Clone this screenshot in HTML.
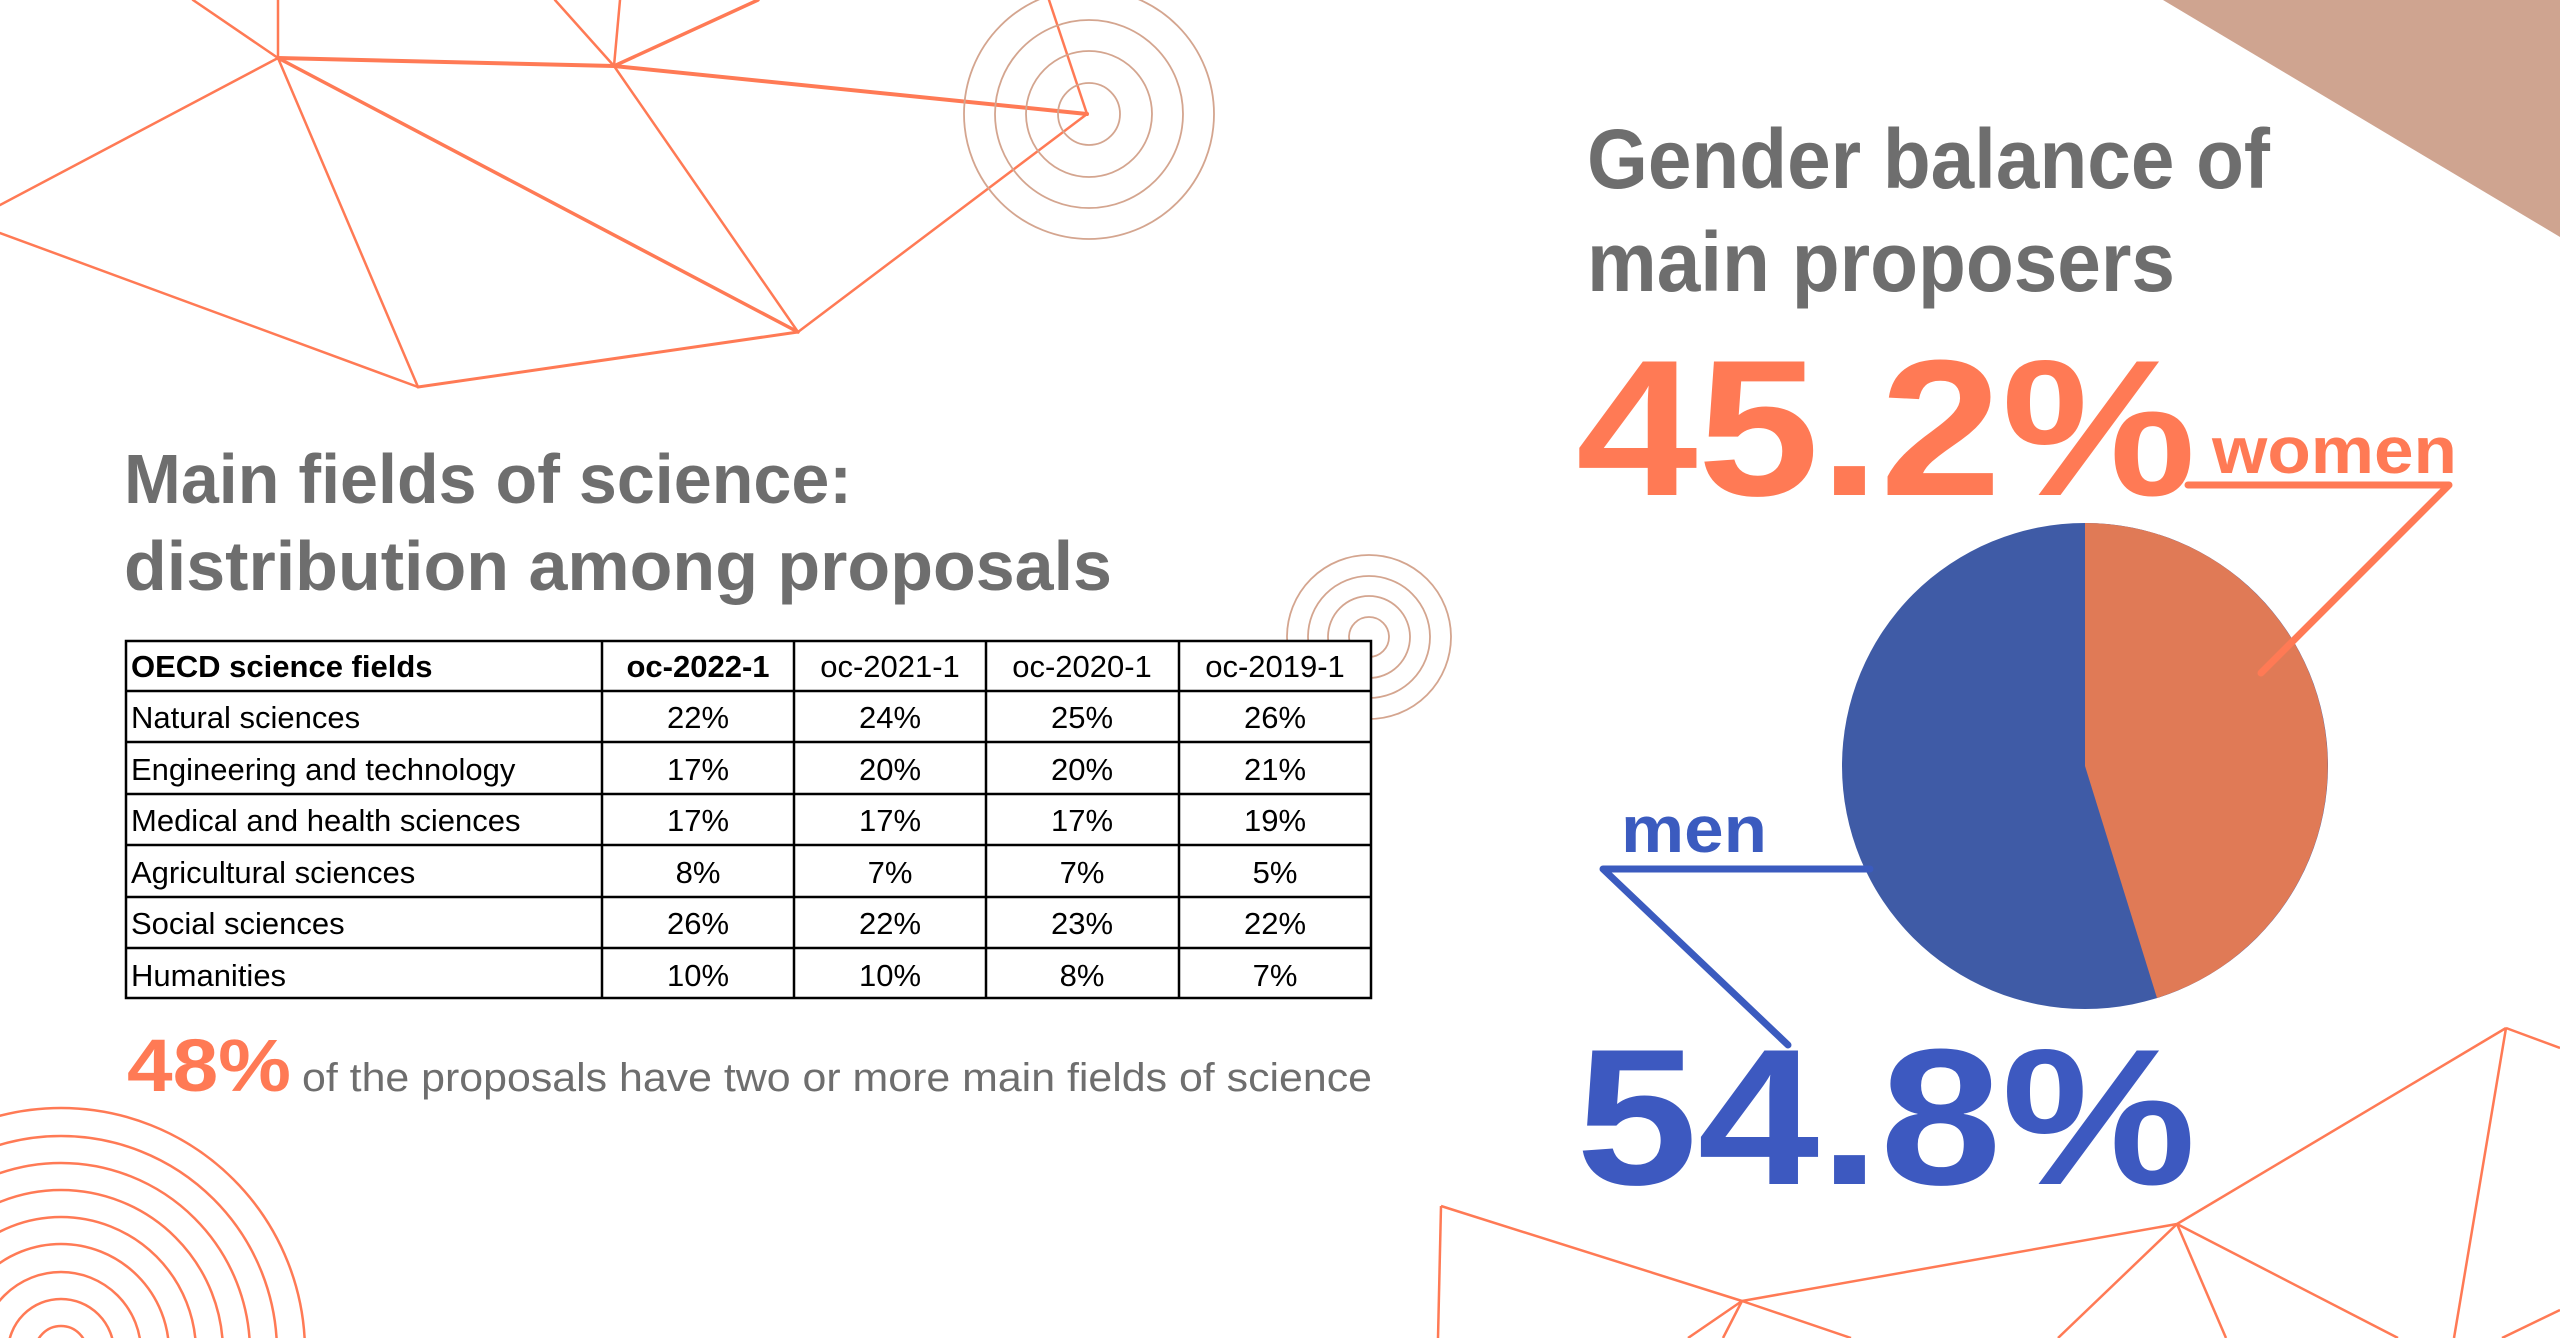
<!DOCTYPE html>
<html><head><meta charset="utf-8"><style>
html,body{margin:0;padding:0;background:#fff;width:2560px;height:1338px;overflow:hidden;}
svg{display:block;position:absolute;left:0;top:0;overflow:hidden;}
</style></head><body>
<svg width="2560" height="1338" viewBox="0 0 2560 1338" overflow="hidden" xmlns="http://www.w3.org/2000/svg">
<defs><clipPath id="cl"><rect x="0" y="0" width="2560" height="1338"/></clipPath></defs>
<g clip-path="url(#cl)">
<rect width="2560" height="1338" fill="#fff"/>
<g stroke="#ff7a55" fill="none" stroke-width="2.5" stroke-linecap="round">
<line x1="278" y1="58" x2="193" y2="0"/>
<line x1="278" y1="58" x2="278" y2="0"/>
<line x1="278" y1="58" x2="614" y2="66" stroke-width="4"/>
<line x1="278" y1="58" x2="0" y2="205"/>
<line x1="278" y1="58" x2="418" y2="387"/>
<line x1="278" y1="58" x2="798" y2="332" stroke-width="3.5"/>
<line x1="614" y1="66" x2="555" y2="0"/>
<line x1="614" y1="66" x2="620" y2="0"/>
<line x1="614" y1="66" x2="758" y2="0" stroke-width="3.5"/>
<line x1="614" y1="66" x2="1087" y2="114" stroke-width="4"/>
<line x1="614" y1="66" x2="798" y2="332"/>
<line x1="1087" y1="114" x2="1049" y2="0"/>
<line x1="1087" y1="114" x2="798" y2="332"/>
<line x1="798" y1="332" x2="418" y2="387" stroke-width="3"/>
<line x1="418" y1="387" x2="0" y2="233"/>
</g>
<g stroke="#d4a58f" fill="none" stroke-width="1.8">
<circle cx="1089" cy="114" r="31"/><circle cx="1089" cy="114" r="63"/><circle cx="1089" cy="114" r="94"/><circle cx="1089" cy="114" r="125"/>
<circle cx="1369" cy="637" r="20"/><circle cx="1369" cy="637" r="41"/><circle cx="1369" cy="637" r="61"/><circle cx="1369" cy="637" r="82"/>
</g>
<g stroke="#ff7a55" fill="none" stroke-width="2.5">
<circle cx="61" cy="1352" r="244"/><circle cx="61" cy="1352" r="216"/><circle cx="61" cy="1352" r="189"/><circle cx="61" cy="1352" r="162"/><circle cx="61" cy="1352" r="135"/><circle cx="61" cy="1352" r="108"/><circle cx="61" cy="1352" r="80"/><circle cx="61" cy="1352" r="53"/><circle cx="61" cy="1352" r="26"/>
</g>
<polygon points="2163,0 2560,0 2560,237" fill="#cfa490"/>
<g stroke="#ff7a55" fill="none" stroke-width="2.5">
<line x1="1441" y1="1206" x2="1742" y2="1301"/>
<line x1="1441" y1="1206" x2="1438" y2="1338"/>
<line x1="1742" y1="1301" x2="2177" y2="1224"/>
<line x1="2177" y1="1224" x2="2506" y2="1028"/>
<line x1="2506" y1="1028" x2="2560" y2="1048"/>
<line x1="1742" y1="1301" x2="1688" y2="1338"/>
<line x1="1742" y1="1301" x2="1723" y2="1338"/>
<line x1="1742" y1="1301" x2="1851" y2="1338"/>
<line x1="2177" y1="1224" x2="2058" y2="1338"/>
<line x1="2177" y1="1224" x2="2226" y2="1338"/>
<line x1="2177" y1="1224" x2="2398" y2="1338"/>
<line x1="2506" y1="1028" x2="2454" y2="1338"/>
<line x1="2502" y1="1338" x2="2560" y2="1310"/>
</g>
<g font-family="Liberation Sans, sans-serif" font-weight="bold" fill="#6e6e6e">
<text x="124" y="503" font-size="70" textLength="728" lengthAdjust="spacingAndGlyphs">Main fields of science:</text>
<text x="124" y="590" font-size="70" textLength="988" lengthAdjust="spacingAndGlyphs">distribution among proposals</text>
</g>
<rect x="126" y="641" width="1245" height="357" fill="#fff"/>
<g stroke="#000" stroke-width="2.5">
<rect x="126" y="641" width="1245" height="357" fill="none"/>
<line x1="126" y1="691" x2="1371" y2="691"/>
<line x1="126" y1="742" x2="1371" y2="742"/>
<line x1="126" y1="794" x2="1371" y2="794"/>
<line x1="126" y1="845" x2="1371" y2="845"/>
<line x1="126" y1="897" x2="1371" y2="897"/>
<line x1="126" y1="948" x2="1371" y2="948"/>
<line x1="602" y1="641" x2="602" y2="998"/>
<line x1="794" y1="641" x2="794" y2="998"/>
<line x1="986" y1="641" x2="986" y2="998"/>
<line x1="1179" y1="641" x2="1179" y2="998"/>
</g>
<g font-family="Liberation Sans, sans-serif" font-size="31" fill="#000">
<text x="131" y="677" font-weight="bold">OECD science fields</text>
<text x="131" y="728">Natural sciences</text>
<text x="131" y="780">Engineering and technology</text>
<text x="131" y="831">Medical and health sciences</text>
<text x="131" y="883">Agricultural sciences</text>
<text x="131" y="934">Social sciences</text>
<text x="131" y="986">Humanities</text>
<g text-anchor="middle">
<text x="698" y="677" font-weight="bold">oc-2022-1</text><text x="890" y="677">oc-2021-1</text><text x="1082" y="677">oc-2020-1</text><text x="1275" y="677">oc-2019-1</text>
<text x="698" y="728">22%</text><text x="890" y="728">24%</text><text x="1082" y="728">25%</text><text x="1275" y="728">26%</text>
<text x="698" y="780">17%</text><text x="890" y="780">20%</text><text x="1082" y="780">20%</text><text x="1275" y="780">21%</text>
<text x="698" y="831">17%</text><text x="890" y="831">17%</text><text x="1082" y="831">17%</text><text x="1275" y="831">19%</text>
<text x="698" y="883">8%</text><text x="890" y="883">7%</text><text x="1082" y="883">7%</text><text x="1275" y="883">5%</text>
<text x="698" y="934">26%</text><text x="890" y="934">22%</text><text x="1082" y="934">23%</text><text x="1275" y="934">22%</text>
<text x="698" y="986">10%</text><text x="890" y="986">10%</text><text x="1082" y="986">8%</text><text x="1275" y="986">7%</text>
</g>
</g>
<g font-family="Liberation Sans, sans-serif">
<text x="127" y="1091" font-size="74" font-weight="bold" fill="#ff7a55" textLength="164" lengthAdjust="spacingAndGlyphs">48%</text>
<text x="302" y="1091" font-size="40" fill="#6e6e6e" textLength="1070" lengthAdjust="spacingAndGlyphs">of the proposals have two or more main fields of science</text>
</g>
<g font-family="Liberation Sans, sans-serif" font-weight="bold">
<text x="1587" y="188" font-size="84" fill="#6e6e6e" textLength="683" lengthAdjust="spacingAndGlyphs">Gender balance of</text>
<text x="1587" y="291" font-size="84" fill="#6e6e6e" textLength="588" lengthAdjust="spacingAndGlyphs">main proposers</text>
<text x="1576" y="495" font-size="194" fill="#ff7a55" textLength="620" lengthAdjust="spacingAndGlyphs">45.2%</text>
<text x="2212" y="473" font-size="66" fill="#ff7a55" textLength="245" lengthAdjust="spacingAndGlyphs">women</text>
<text x="1621" y="852" font-size="66" fill="#3b5bbf" textLength="146" lengthAdjust="spacingAndGlyphs">men</text>
<text x="1576" y="1184" font-size="194" fill="#3d59c0" textLength="620" lengthAdjust="spacingAndGlyphs">54.8%</text>
</g>
<circle cx="2085" cy="766" r="243" fill="#3f5ba6"/>
<path d="M2085,766 L2085,523 A243,243 0 0 1 2157,998 Z" fill="#e07a56"/>
<polyline points="2188,485 2449,485 2261,673" fill="none" stroke="#ff7a55" stroke-width="7" stroke-linecap="round" stroke-linejoin="round"/>
<polyline points="1870,869 1603,869 1788,1045" fill="none" stroke="#3b5bbf" stroke-width="7" stroke-linecap="round" stroke-linejoin="round"/>
</g>
</svg>
</body></html>
